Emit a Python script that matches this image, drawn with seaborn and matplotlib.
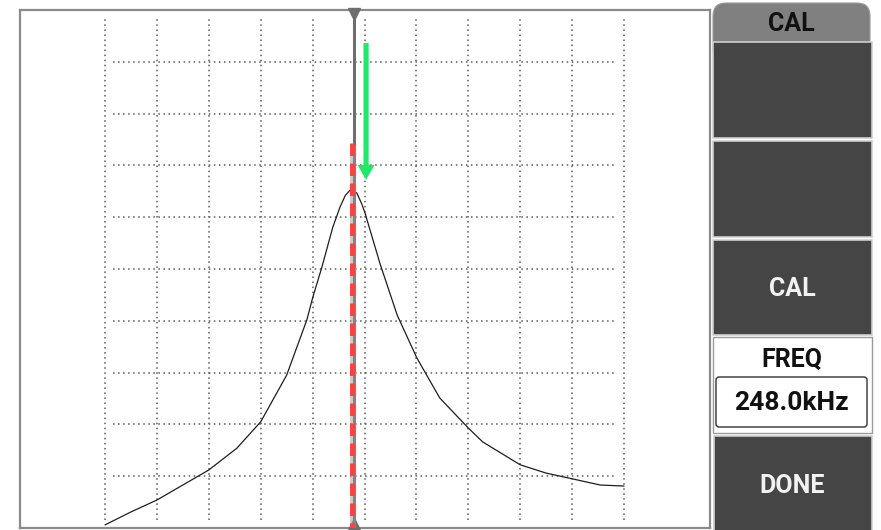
import numpy as np
import pandas as pd
import seaborn as sns
import matplotlib
matplotlib.use("Agg")
import matplotlib.pyplot as plt
from matplotlib.patches import FancyBboxPatch, Rectangle

# ---------------- data ----------------
freq_div = [0, 0.5, 1.0, 1.5, 2.0, 2.54, 3.0, 3.5, 3.89, 4.0, 4.18, 4.39, 4.53,
            4.63, 4.72, 4.85, 4.95, 5.01, 5.30, 5.63, 6.01, 6.45, 7.0, 7.28,
            8.0, 8.5, 9.0, 9.54, 10.0]
amplitude = [0.06, 0.31, 0.54, 0.83, 1.12, 1.54, 2.05, 2.95, 4.02, 4.44, 5.04, 5.81, 6.20,
             6.42, 6.52, 6.47, 6.25, 6.08, 5.10, 4.11, 3.28, 2.51, 1.93, 1.66,
             1.22, 1.06, 0.95, 0.83, 0.81]
grid_x = list(range(0, 11))
grid_y = list(range(1, 10))
cursor_x = 4.8
marker_x = 4.76
marker_top = 7.43
arrow_x = 5.03
arrow_from = 9.36
arrow_to = 6.72
header_label = "CAL"
button_labels = ["", "", "CAL"]
freq_label = "FREQ"
freq_value = "248.0kHz"
done_label = "DONE"

df = pd.DataFrame({"freq": freq_div, "amp": amplitude})

sns.set_theme(style="white")
plt.rcParams["font.family"] = ["Roboto", "DejaVu Sans"]

W, H = 881, 530
fig = plt.figure(figsize=(W / 100, H / 100), dpi=100)
fig.patch.set_facecolor("white")

# UI overlay axes in pixel coordinates
ui = fig.add_axes([0, 0, 1, 1], zorder=0)
ui.set_xlim(0, W)
ui.set_ylim(H, 0)
ui.axis("off")

# main chart axes (box 20..710 x 10..528 px)
px_per = 51.9
x0px, x1px = 20, 710
left = -(105 - x0px) / px_per
right = (x1px - 105) / px_per
ax = fig.add_axes([x0px / W, 2 / H, (x1px - x0px) / W, 518 / H], zorder=1)
ax.set_facecolor("white")
ax.set_xlim(left, right)
ax.set_ylim(0, 10)
ax.set_xticks([])
ax.set_yticks([])
for s in ax.spines.values():
    s.set_visible(True)
    s.set_color("#8a8a8a")
    s.set_linewidth(1.6)

# dotted grid
ax.vlines(grid_x, 0.15, 9.86, colors="#5a5a5a", linewidth=1.1,
          linestyles=(0, (1, 2.3)), zorder=1)
ax.hlines(grid_y, 0.154, 9.865, colors="#5a5a5a", linewidth=1.1,
          linestyles=(0, (1, 2.3)), zorder=1)

# curve
sns.lineplot(data=df, x="freq", y="amp", sort=False, color="#1e1e1e",
             linewidth=0.9, ax=ax, zorder=3)
ax.set_xlabel("")
ax.set_ylabel("")

# cursor line with triangles
ax.axvline(cursor_x, color="#6e6e6e", linewidth=2.2, zorder=4)
ax.plot([cursor_x], [9.93], marker="v", color="#6e6e6e", markersize=8,
        clip_on=False, zorder=4)
ax.plot([cursor_x], [0.07], marker="^", color="#6e6e6e", markersize=8,
        clip_on=False, zorder=4)

# red dashed marker line (with a faint shadow)
ax.plot([marker_x + 0.02, marker_x + 0.02], [marker_top - 0.03, 0.0], color="#9a9a9a",
        alpha=0.5, linewidth=4.4, solid_capstyle="butt", zorder=4.5)
ax.plot([marker_x, marker_x], [marker_top, 0.0], color="#f24646",
        linewidth=3.6, linestyle=(0, (2.5, 1.5)), solid_capstyle="butt",
        dash_capstyle="butt", zorder=5)

# green arrow
ax.arrow(arrow_x, arrow_from, 0, arrow_to - arrow_from, width=0.1,
         head_width=0.33, head_length=0.29, length_includes_head=True,
         color="#22e86a", zorder=6, linewidth=0)

# ---------------- right panel ----------------
bx0, bx1 = 713, 872
ui.add_patch(FancyBboxPatch((bx0, 3), bx1 - bx0 - 2, 60,
                            boxstyle="round,pad=0,rounding_size=13",
                            facecolor="#808080", edgecolor="#9a9a9a", linewidth=0.8))
ui.text(791, 24, header_label, ha="center", va="center", fontsize=18,
        fontweight="bold", color="#111111")

buttons = [(42, 138), (141, 237), (240, 335)]
for (t, b), lab in zip(buttons, button_labels):
    ui.add_patch(Rectangle((bx0, t), bx1 - bx0, b - t, facecolor="#454545",
                           edgecolor="#cfcfcf", linewidth=1.2))
    if lab:
        ui.text(792, (t + b) / 2 + 1, lab, ha="center", va="center",
                fontsize=18, fontweight="bold", color="#f2f2f2")

# FREQ panel
ui.add_patch(Rectangle((bx0, 337), bx1 - bx0, 96, facecolor="white",
                       edgecolor="#9a9a9a", linewidth=1.0))
ui.text(792, 360, freq_label, ha="center", va="center", fontsize=18,
        fontweight="bold", color="#111111")
ui.add_patch(FancyBboxPatch((716, 377), 151, 50,
                            boxstyle="round,pad=0,rounding_size=3",
                            facecolor="white", edgecolor="#333333", linewidth=1.0))
ui.text(791, 403, freq_value, ha="center", va="center", fontsize=19,
        fontweight="bold", color="#111111")

# DONE button
ui.add_patch(Rectangle((bx0 + 1, 436), bx1 - bx0 - 1, 100, facecolor="#454545",
                       edgecolor="#cfcfcf", linewidth=1.2))
ui.text(792, 486, done_label, ha="center", va="center", fontsize=18,
        fontweight="bold", color="#f2f2f2")

fig.savefig("out.png", dpi=100, facecolor="white")
